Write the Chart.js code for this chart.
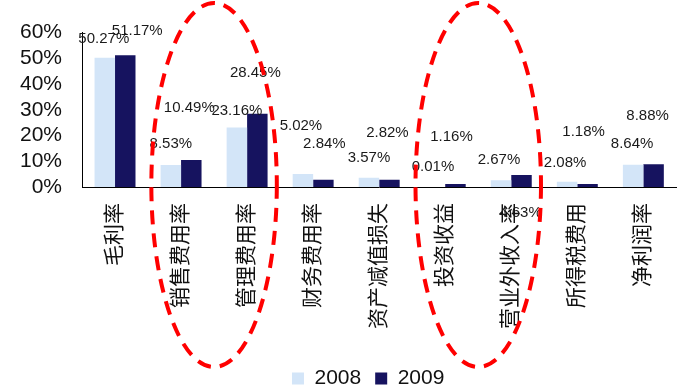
<!DOCTYPE html>
<html>
<head>
  <meta charset="utf-8">
  <title>费用率对比</title>
  <script src="https://cdn.jsdelivr.net/npm/chart.js@4.4.1/dist/chart.umd.min.js"></script>
  <style>
    html, body { margin: 0; padding: 0; background: #fff; }
    #wrap { width: 685px; height: 386px; }
  </style>
</head>
<body>
  <div id="wrap"><canvas id="bars"></canvas></div>

  <script>
    const categories = ['毛利率', '销售费用率', '管理费用率', '财务费用率', '资产减值损失', '投资收益', '营业外收入率', '所得税费用', '净利润率'];
    const seriesNames = ['2008', '2009'];
    const values2008 = [50.27, 8.53, 23.16, 5.02, 3.57, 0.01, 2.67, 2.08, 8.64];
    const values2009 = [51.17, 10.49, 28.45, 2.84, 2.82, 1.16, 4.63, 1.18, 8.88];
    const yTicks = [0, 10, 20, 30, 40, 50, 60];
    // categories circled with red dashed loops
    const highlightGroups = [[1, 2], [5, 6]];

    const FONT = '"Liberation Sans", Arial, "Noto Sans CJK SC", sans-serif';

    // where each value label sits relative to the top of its bar (px), as in the source picture
    const labelOffsets = [
      [[-1, -19], [0, -21], [0, -17], [-2, -48], [0, -20], [-2, -20], [-2, -20], [-2, -19], [-1, -21]],
      [[12, -24], [-2, -52], [-2, -41], [1, -36], [-2, -47], [-4, -47], [-1, 38], [-4, -52], [-6, -48]]
    ];

    const valueLabels = {
      id: 'valueLabels',
      afterDatasetsDraw(chart) {
        const ctx = chart.ctx;
        ctx.save();
        ctx.font = '15px ' + FONT;
        ctx.fillStyle = '#1a1a1a';
        ctx.textAlign = 'center';
        ctx.textBaseline = 'middle';
        chart.data.datasets.forEach((ds, d) => {
          chart.getDatasetMeta(d).data.forEach((bar, i) => {
            const off = labelOffsets[d][i];
            ctx.fillText(ds.data[i].toFixed(2) + '%', bar.x + off[0], bar.y + off[1]);
          });
        });
        ctx.restore();
      }
    };

    const loops = {
      id: 'loops',
      afterDraw(chart) {
        const x = chart.scales.x, y = chart.scales.y;
        const step = x.getPixelForValue(1) - x.getPixelForValue(0);
        const ctx = chart.ctx;
        ctx.save();
        ctx.strokeStyle = '#ff0000';
        ctx.lineWidth = 4;
        ctx.setLineDash([14, 9]);
        highlightGroups.forEach(g => {
          const cx = x.getPixelForValue((g[0] + g[1]) / 2);
          const cy = y.getPixelForValue(0) - 2;
          ctx.beginPath();
          ctx.ellipse(cx, cy, step * 0.95, 182, 0, 0, Math.PI * 2);
          ctx.stroke();
        });
        ctx.restore();
      }
    };

    const legendNudge = {
      id: 'legendNudge',
      afterLayout(chart) {
        const lg = chart.legend;
        lg.left -= 11; lg.right -= 11;
        lg.top += 13; lg.bottom += 13;
      }
    };

    new Chart(document.getElementById('bars'), {
      type: 'bar',
      data: {
        labels: categories,
        datasets: [
          { label: seriesNames[0], data: values2008, backgroundColor: '#d3e5f8' },
          { label: seriesNames[1], data: values2009, backgroundColor: '#16135f' }
        ]
      },
      options: {
        responsive: true,
        maintainAspectRatio: false,
        animation: false,
        events: [],
        layout: { padding: { top: 18, right: 8, left: 0, bottom: 0 } },
        datasets: { bar: { categoryPercentage: 0.62, barPercentage: 1.0 } },
        plugins: {
          legend: {
            position: 'bottom',
            fullSize: false,
            labels: { boxWidth: 12, boxHeight: 12, padding: 14, color: '#111', font: { family: FONT, size: 21 } }
          },
          tooltip: { enabled: false }
        },
        scales: {
          x: {
            grid: { display: false, drawTicks: false },
            border: { display: true, color: '#000', width: 1 },
            ticks: {
              color: '#111', minRotation: 90, maxRotation: 90, autoSkip: false, padding: 16,
              font: { family: FONT, size: 21 }
            },
            afterFit(s) { s.height = 154; }
          },
          y: {
            min: 0, max: 60,
            grid: { display: false, drawTicks: false },
            border: { display: true, color: '#000', width: 1 },
            afterBuildTicks(s) { s.ticks = yTicks.map(v => ({ value: v })); },
            ticks: {
              color: '#111', padding: 20, autoSkip: false,
              font: { family: FONT, size: 21 },
              callback: v => v + '%'
            },
            afterFit(s) { s.width = 82; }
          }
        }
      },
      plugins: [valueLabels, loops, legendNudge]
    });
  </script>
</body>
</html>
